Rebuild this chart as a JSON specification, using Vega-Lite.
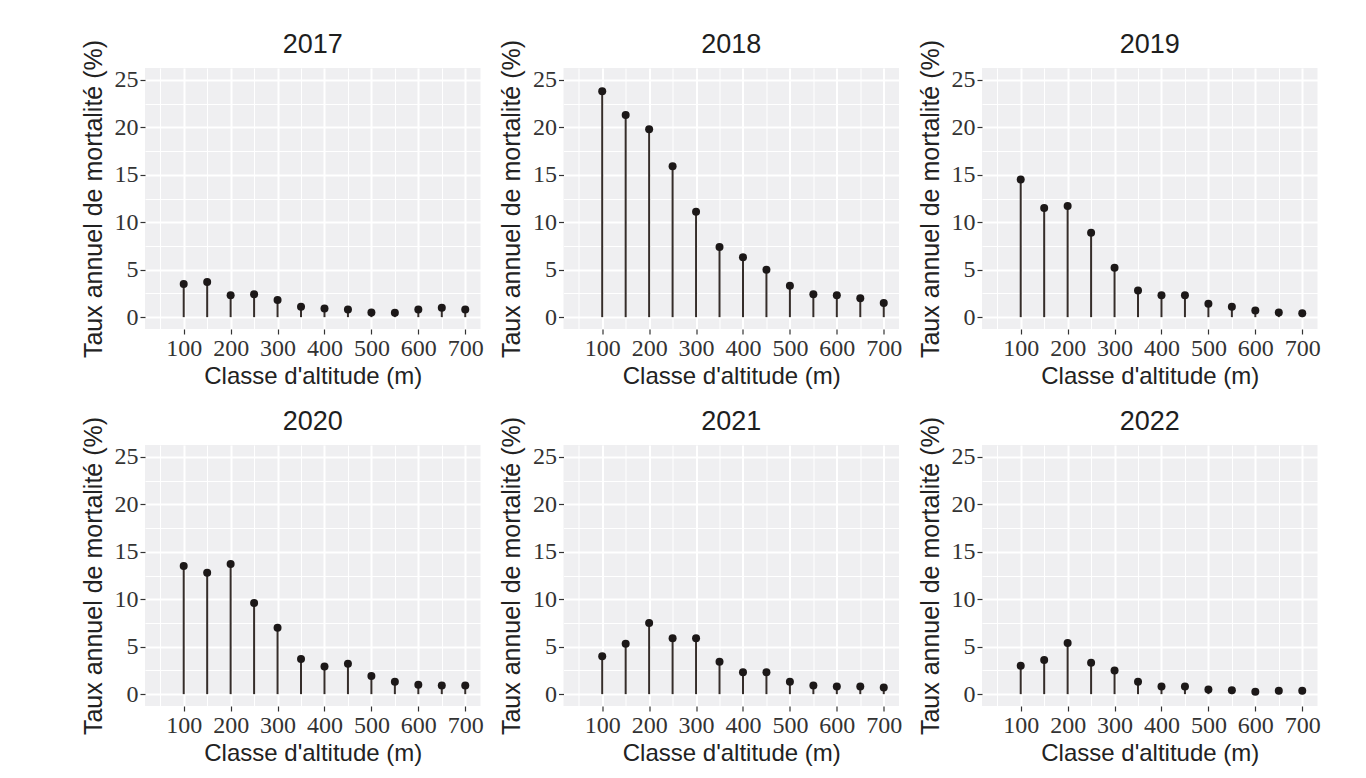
{
  "$schema": "https://vega.github.io/schema/vega-lite/v6.json",
  "background": "white",
  "padding": {"left": 80, "top": 31, "right": 10, "bottom": 10},
  "datasets": {
    "d": [
      {"year": "2017", "alt": 100, "taux": 3.5}, {"year": "2017", "alt": 150, "taux": 3.7}, {"year": "2017", "alt": 200, "taux": 2.3}, {"year": "2017", "alt": 250, "taux": 2.4}, {"year": "2017", "alt": 300, "taux": 1.8}, {"year": "2017", "alt": 350, "taux": 1.1}, {"year": "2017", "alt": 400, "taux": 0.9}, {"year": "2017", "alt": 450, "taux": 0.8}, {"year": "2017", "alt": 500, "taux": 0.5}, {"year": "2017", "alt": 550, "taux": 0.45}, {"year": "2017", "alt": 600, "taux": 0.8}, {"year": "2017", "alt": 650, "taux": 1.0}, {"year": "2017", "alt": 700, "taux": 0.8},
      {"year": "2018", "alt": 100, "taux": 23.8}, {"year": "2018", "alt": 150, "taux": 21.3}, {"year": "2018", "alt": 200, "taux": 19.8}, {"year": "2018", "alt": 250, "taux": 15.9}, {"year": "2018", "alt": 300, "taux": 11.1}, {"year": "2018", "alt": 350, "taux": 7.4}, {"year": "2018", "alt": 400, "taux": 6.3}, {"year": "2018", "alt": 450, "taux": 5.0}, {"year": "2018", "alt": 500, "taux": 3.3}, {"year": "2018", "alt": 550, "taux": 2.4}, {"year": "2018", "alt": 600, "taux": 2.3}, {"year": "2018", "alt": 650, "taux": 2.0}, {"year": "2018", "alt": 700, "taux": 1.5},
      {"year": "2019", "alt": 100, "taux": 14.5}, {"year": "2019", "alt": 150, "taux": 11.5}, {"year": "2019", "alt": 200, "taux": 11.7}, {"year": "2019", "alt": 250, "taux": 8.9}, {"year": "2019", "alt": 300, "taux": 5.2}, {"year": "2019", "alt": 350, "taux": 2.8}, {"year": "2019", "alt": 400, "taux": 2.3}, {"year": "2019", "alt": 450, "taux": 2.3}, {"year": "2019", "alt": 500, "taux": 1.4}, {"year": "2019", "alt": 550, "taux": 1.1}, {"year": "2019", "alt": 600, "taux": 0.7}, {"year": "2019", "alt": 650, "taux": 0.5}, {"year": "2019", "alt": 700, "taux": 0.4},
      {"year": "2020", "alt": 100, "taux": 13.5}, {"year": "2020", "alt": 150, "taux": 12.8}, {"year": "2020", "alt": 200, "taux": 13.7}, {"year": "2020", "alt": 250, "taux": 9.6}, {"year": "2020", "alt": 300, "taux": 7.0}, {"year": "2020", "alt": 350, "taux": 3.7}, {"year": "2020", "alt": 400, "taux": 2.9}, {"year": "2020", "alt": 450, "taux": 3.2}, {"year": "2020", "alt": 500, "taux": 1.9}, {"year": "2020", "alt": 550, "taux": 1.3}, {"year": "2020", "alt": 600, "taux": 1.0}, {"year": "2020", "alt": 650, "taux": 0.9}, {"year": "2020", "alt": 700, "taux": 0.9},
      {"year": "2021", "alt": 100, "taux": 4.0}, {"year": "2021", "alt": 150, "taux": 5.3}, {"year": "2021", "alt": 200, "taux": 7.5}, {"year": "2021", "alt": 250, "taux": 5.9}, {"year": "2021", "alt": 300, "taux": 5.9}, {"year": "2021", "alt": 350, "taux": 3.4}, {"year": "2021", "alt": 400, "taux": 2.3}, {"year": "2021", "alt": 450, "taux": 2.3}, {"year": "2021", "alt": 500, "taux": 1.3}, {"year": "2021", "alt": 550, "taux": 0.9}, {"year": "2021", "alt": 600, "taux": 0.8}, {"year": "2021", "alt": 650, "taux": 0.8}, {"year": "2021", "alt": 700, "taux": 0.7},
      {"year": "2022", "alt": 100, "taux": 3.0}, {"year": "2022", "alt": 150, "taux": 3.6}, {"year": "2022", "alt": 200, "taux": 5.4}, {"year": "2022", "alt": 250, "taux": 3.3}, {"year": "2022", "alt": 300, "taux": 2.5}, {"year": "2022", "alt": 350, "taux": 1.3}, {"year": "2022", "alt": 400, "taux": 0.8}, {"year": "2022", "alt": 450, "taux": 0.8}, {"year": "2022", "alt": 500, "taux": 0.5}, {"year": "2022", "alt": 550, "taux": 0.4}, {"year": "2022", "alt": 600, "taux": 0.25}, {"year": "2022", "alt": 650, "taux": 0.35}, {"year": "2022", "alt": 700, "taux": 0.35}
    ]
  },
  "data": {"name": "d"},
  "columns": 3,
  "spacing": {"row": 116, "column": 82.5},
  "bounds": "flush",
  "concat": [
    {"title": {"text": "2017"}, "width": 335.5, "height": 261, "transform": [{"filter": "datum.year == '2017'"}],
     "encoding": {
       "x": {"field": "alt", "type": "quantitative", "scale": {"domain": [17.5, 732.5], "nice": false, "zero": false}, "axis": {"values": [50,100,150,200,250,300,350,400,450,500,550,600,650,700], "labelExpr": "datum.value % 100 === 0 ? format(datum.value, 'd') : ''", "title": "Classe d'altitude (m)", "gridWidth": {"condition": {"test": "datum.value % 100 === 0", "value": 2}, "value": 1}, "tickOpacity": {"condition": {"test": "datum.value % 100 === 0", "value": 1}, "value": 0}}},
       "y": {"field": "taux", "type": "quantitative", "scale": {"domain": [-1.25, 26.25], "nice": false, "zero": false}, "axis": {"values": [0,2.5,5,7.5,10,12.5,15,17.5,20,22.5,25], "labelExpr": "datum.value % 5 === 0 ? format(datum.value, 'd') : ''", "title": "Taux annuel de mortalité (%)", "gridWidth": {"condition": {"test": "datum.value % 5 === 0", "value": 2}, "value": 1}, "tickOpacity": {"condition": {"test": "datum.value % 5 === 0", "value": 1}, "value": 0}}}
     },
     "layer": [
       {"mark": {"type": "rule", "color": "#352d2a", "strokeWidth": 2}, "encoding": {"y2": {"datum": 0}}},
       {"mark": {"type": "circle", "size": 64, "color": "#1c1818", "opacity": 1}, "encoding": {}}
     ]},
    {"title": {"text": "2018"}, "width": 335.5, "height": 261, "transform": [{"filter": "datum.year == '2018'"}],
     "encoding": {
       "x": {"field": "alt", "type": "quantitative", "scale": {"domain": [17.5, 732.5], "nice": false, "zero": false}, "axis": {"values": [50,100,150,200,250,300,350,400,450,500,550,600,650,700], "labelExpr": "datum.value % 100 === 0 ? format(datum.value, 'd') : ''", "title": "Classe d'altitude (m)", "gridWidth": {"condition": {"test": "datum.value % 100 === 0", "value": 2}, "value": 1}, "tickOpacity": {"condition": {"test": "datum.value % 100 === 0", "value": 1}, "value": 0}}},
       "y": {"field": "taux", "type": "quantitative", "scale": {"domain": [-1.25, 26.25], "nice": false, "zero": false}, "axis": {"values": [0,2.5,5,7.5,10,12.5,15,17.5,20,22.5,25], "labelExpr": "datum.value % 5 === 0 ? format(datum.value, 'd') : ''", "title": "Taux annuel de mortalité (%)", "gridWidth": {"condition": {"test": "datum.value % 5 === 0", "value": 2}, "value": 1}, "tickOpacity": {"condition": {"test": "datum.value % 5 === 0", "value": 1}, "value": 0}}}
     },
     "layer": [
       {"mark": {"type": "rule", "color": "#352d2a", "strokeWidth": 2}, "encoding": {"y2": {"datum": 0}}},
       {"mark": {"type": "circle", "size": 64, "color": "#1c1818", "opacity": 1}, "encoding": {}}
     ]},
    {"title": {"text": "2019"}, "width": 335.5, "height": 261, "transform": [{"filter": "datum.year == '2019'"}],
     "encoding": {
       "x": {"field": "alt", "type": "quantitative", "scale": {"domain": [17.5, 732.5], "nice": false, "zero": false}, "axis": {"values": [50,100,150,200,250,300,350,400,450,500,550,600,650,700], "labelExpr": "datum.value % 100 === 0 ? format(datum.value, 'd') : ''", "title": "Classe d'altitude (m)", "gridWidth": {"condition": {"test": "datum.value % 100 === 0", "value": 2}, "value": 1}, "tickOpacity": {"condition": {"test": "datum.value % 100 === 0", "value": 1}, "value": 0}}},
       "y": {"field": "taux", "type": "quantitative", "scale": {"domain": [-1.25, 26.25], "nice": false, "zero": false}, "axis": {"values": [0,2.5,5,7.5,10,12.5,15,17.5,20,22.5,25], "labelExpr": "datum.value % 5 === 0 ? format(datum.value, 'd') : ''", "title": "Taux annuel de mortalité (%)", "gridWidth": {"condition": {"test": "datum.value % 5 === 0", "value": 2}, "value": 1}, "tickOpacity": {"condition": {"test": "datum.value % 5 === 0", "value": 1}, "value": 0}}}
     },
     "layer": [
       {"mark": {"type": "rule", "color": "#352d2a", "strokeWidth": 2}, "encoding": {"y2": {"datum": 0}}},
       {"mark": {"type": "circle", "size": 64, "color": "#1c1818", "opacity": 1}, "encoding": {}}
     ]},
    {"title": {"text": "2020"}, "width": 335.5, "height": 261, "transform": [{"filter": "datum.year == '2020'"}],
     "encoding": {
       "x": {"field": "alt", "type": "quantitative", "scale": {"domain": [17.5, 732.5], "nice": false, "zero": false}, "axis": {"values": [50,100,150,200,250,300,350,400,450,500,550,600,650,700], "labelExpr": "datum.value % 100 === 0 ? format(datum.value, 'd') : ''", "title": "Classe d'altitude (m)", "gridWidth": {"condition": {"test": "datum.value % 100 === 0", "value": 2}, "value": 1}, "tickOpacity": {"condition": {"test": "datum.value % 100 === 0", "value": 1}, "value": 0}}},
       "y": {"field": "taux", "type": "quantitative", "scale": {"domain": [-1.25, 26.25], "nice": false, "zero": false}, "axis": {"values": [0,2.5,5,7.5,10,12.5,15,17.5,20,22.5,25], "labelExpr": "datum.value % 5 === 0 ? format(datum.value, 'd') : ''", "title": "Taux annuel de mortalité (%)", "gridWidth": {"condition": {"test": "datum.value % 5 === 0", "value": 2}, "value": 1}, "tickOpacity": {"condition": {"test": "datum.value % 5 === 0", "value": 1}, "value": 0}}}
     },
     "layer": [
       {"mark": {"type": "rule", "color": "#352d2a", "strokeWidth": 2}, "encoding": {"y2": {"datum": 0}}},
       {"mark": {"type": "circle", "size": 64, "color": "#1c1818", "opacity": 1}, "encoding": {}}
     ]},
    {"title": {"text": "2021"}, "width": 335.5, "height": 261, "transform": [{"filter": "datum.year == '2021'"}],
     "encoding": {
       "x": {"field": "alt", "type": "quantitative", "scale": {"domain": [17.5, 732.5], "nice": false, "zero": false}, "axis": {"values": [50,100,150,200,250,300,350,400,450,500,550,600,650,700], "labelExpr": "datum.value % 100 === 0 ? format(datum.value, 'd') : ''", "title": "Classe d'altitude (m)", "gridWidth": {"condition": {"test": "datum.value % 100 === 0", "value": 2}, "value": 1}, "tickOpacity": {"condition": {"test": "datum.value % 100 === 0", "value": 1}, "value": 0}}},
       "y": {"field": "taux", "type": "quantitative", "scale": {"domain": [-1.25, 26.25], "nice": false, "zero": false}, "axis": {"values": [0,2.5,5,7.5,10,12.5,15,17.5,20,22.5,25], "labelExpr": "datum.value % 5 === 0 ? format(datum.value, 'd') : ''", "title": "Taux annuel de mortalité (%)", "gridWidth": {"condition": {"test": "datum.value % 5 === 0", "value": 2}, "value": 1}, "tickOpacity": {"condition": {"test": "datum.value % 5 === 0", "value": 1}, "value": 0}}}
     },
     "layer": [
       {"mark": {"type": "rule", "color": "#352d2a", "strokeWidth": 2}, "encoding": {"y2": {"datum": 0}}},
       {"mark": {"type": "circle", "size": 64, "color": "#1c1818", "opacity": 1}, "encoding": {}}
     ]},
    {"title": {"text": "2022"}, "width": 335.5, "height": 261, "transform": [{"filter": "datum.year == '2022'"}],
     "encoding": {
       "x": {"field": "alt", "type": "quantitative", "scale": {"domain": [17.5, 732.5], "nice": false, "zero": false}, "axis": {"values": [50,100,150,200,250,300,350,400,450,500,550,600,650,700], "labelExpr": "datum.value % 100 === 0 ? format(datum.value, 'd') : ''", "title": "Classe d'altitude (m)", "gridWidth": {"condition": {"test": "datum.value % 100 === 0", "value": 2}, "value": 1}, "tickOpacity": {"condition": {"test": "datum.value % 100 === 0", "value": 1}, "value": 0}}},
       "y": {"field": "taux", "type": "quantitative", "scale": {"domain": [-1.25, 26.25], "nice": false, "zero": false}, "axis": {"values": [0,2.5,5,7.5,10,12.5,15,17.5,20,22.5,25], "labelExpr": "datum.value % 5 === 0 ? format(datum.value, 'd') : ''", "title": "Taux annuel de mortalité (%)", "gridWidth": {"condition": {"test": "datum.value % 5 === 0", "value": 2}, "value": 1}, "tickOpacity": {"condition": {"test": "datum.value % 5 === 0", "value": 1}, "value": 0}}}
     },
     "layer": [
       {"mark": {"type": "rule", "color": "#352d2a", "strokeWidth": 2}, "encoding": {"y2": {"datum": 0}}},
       {"mark": {"type": "circle", "size": 64, "color": "#1c1818", "opacity": 1}, "encoding": {}}
     ]}
  ],
  "config": {
    "font": "Liberation Sans",
    "view": {"fill": "#efeff1", "stroke": null},
    "title": {"fontSize": 27, "fontWeight": "normal", "color": "#1e1e1e", "font": "Liberation Sans", "anchor": "middle", "offset": -20, "frame": "group"},
    "axis": {
      "domain": false,
      "labelFont": "Liberation Sans Narrow",
      "labelFontSize": 24,
      "labelColor": "#333333",
      "labelPadding": 2,
      "labelOverlap": false,
      "labelFlush": false,
      "titleFont": "Liberation Sans",
      "titleFontWeight": "normal",
      "titleColor": "#222222",
      "gridColor": "#ffffff",
      "gridOpacity": 1,
      "tickColor": "#333333",
      "tickSize": 5,
      "tickWidth": 1.2
    },
    "axisX": {"titlePadding": 4, "titleFontSize": 24},
    "axisY": {"titlePadding": 8, "titleFontSize": 25}
  }
}
